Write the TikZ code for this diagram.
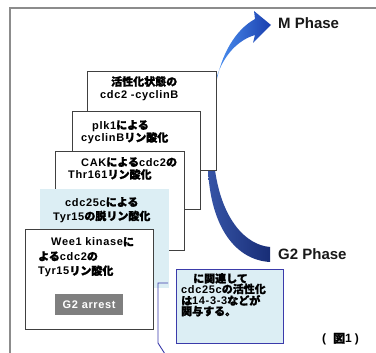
\documentclass[tikz,border=0pt]{standalone}
\usepackage{fontspec}
\setmainfont{Liberation Sans}
\newfontfamily\latf{Liberation Sans}[LetterSpace=6]
\newfontfamily\jpf{Noto Sans CJK JP}[FakeBold=1.6]
\newcommand\J[1]{{\jpf\bfseries #1}}
\definecolor{mlight}{HTML}{4C92F2}
\definecolor{mdark}{HTML}{1B3FAE}
\definecolor{gmid}{HTML}{3654A6}
\definecolor{gdark}{HTML}{182D76}
\definecolor{lblue}{HTML}{DCEEF4}
\definecolor{cborder}{HTML}{3B3BAA}
\definecolor{arrestgray}{HTML}{7F7F7F}
\begin{document}
\begin{tikzpicture}[x=1pt,y=-1pt,
  frameline/.style={draw=black!45, line width=1.3pt},
  wbox/.style={draw=black!75, line width=0.9pt, fill=white, anchor=north west, inner sep=0pt},
  bbox/.style={fill=lblue, anchor=north west, inner sep=0pt},
  txt/.style={anchor=north west, inner sep=0pt, align=left, text=black},
  phase/.style={anchor=west, inner sep=0pt, text=black!90, font=\bfseries\fontsize{15}{18}\selectfont}
]
\useasboundingbox (0,0) rectangle (376,353);
\fill[white] (0,0) rectangle (376,353);
% frame
\coordinate (fa) at (376,8);
\coordinate (fb) at (10,8);
\coordinate (fc) at (10,353);
\draw[frameline] (fa) -- (fb) -- (fc);

% arrows
\shade[left color=mlight, right color=mdark] (216,84) .. controls (221,55) and (235,30) .. (255,19) -- (254,11) -- (271,25) -- (253,43) -- (255,35) .. controls (238,40) and (224,55) .. (217,76) -- cycle;
\shade[left color=gmid, right color=gdark] (208,170) .. controls (211,228) and (236,260) .. (270,262) -- (270,247) .. controls (246,245) and (222,220) .. (215,170) -- cycle;

\node[phase] (mp) at (278,23) {M Phase};
\node[phase] (gp) at (278,254) {G2 Phase};

% boxes
\node[wbox, minimum width=129pt, minimum height=99pt] (b1) at (87,71) {};
\node[txt, font=\latf\bfseries\fontsize{11}{12.5}\selectfont] (t1) at ([shift={(13,5)}]b1.north west)
  {\hspace*{11pt}\J{活性化状態の}\\cdc2 -cyclinB};

\node[wbox, minimum width=128pt, minimum height=98pt] (b2) at (72,111) {};
\node[txt, font=\latf\bfseries\fontsize{11}{12.5}\selectfont] (t2) at ([shift={(9,9)}]b2.north west)
  {\hspace*{11pt}plk1\J{による}\\cyclinB\J{リン酸化}};

\node[wbox, minimum width=129pt, minimum height=99pt] (b3) at (55,151) {};
\node[txt, font=\latf\bfseries\fontsize{11}{12.5}\selectfont] (t3) at ([shift={(13,6)}]b3.north west)
  {\hspace*{13pt}CAK\J{による}cdc2\J{の}\\Thr161\J{リン酸化}};

\node[bbox, minimum width=129pt, minimum height=99pt] (b4) at (40,189) {};
\node[txt, font=\latf\bfseries\fontsize{11}{14}\selectfont] (t4) at ([shift={(13,8)}]b4.north west)
  {\hspace*{12pt}cdc25c\J{による}\\Tyr15\J{の脱リン酸化}};

\node[wbox, minimum width=128pt, minimum height=100pt] (b5) at (25,229) {};
\node[txt, font=\latf\bfseries\fontsize{11}{14.5}\selectfont] (t5) at ([shift={(13,8)}]b5.north west)
  {\hspace*{13pt}Wee1 kinase\J{に}\\\J{よる}cdc2\J{の}\\Tyr15\J{リン酸化}};

\node[anchor=north west, fill=arrestgray, minimum width=68pt, minimum height=21pt, inner sep=0pt,
  text=white, font=\latf\bfseries\fontsize{11}{13}\selectfont] (g2) at (55,294) {G2 arrest};

% callout
\node[anchor=north west, fill=lblue, draw=cborder, line width=0.9pt, minimum width=107pt, minimum height=74pt, inner sep=0pt] (co) at (176,269) {};
\node[txt, font=\latf\bfseries\fontsize{11}{10.5}\selectfont] (tco) at ([shift={(5,4)}]co.north west)
  {\hspace*{12pt}\J{に関連して}\\cdc25c\J{の活性化}\\\J{は}14-3-3\J{などが}\\\J{関与する。}};

\coordinate (p1) at (168,283);
\coordinate (p2) at (158,283);
\coordinate (p3) at (158,343);
\coordinate (p4) at (165,354);
\draw[cborder, line width=0.9pt] (p1) -- (p2) -- (p3) -- (p4);

\node[anchor=west, inner sep=0pt, text=black, font=\bfseries\fontsize{12}{14}\selectfont] (fig) at (322,339)
  {(\hspace{7pt}\J{図}1\hspace{3pt})};
\end{tikzpicture}
\end{document}
